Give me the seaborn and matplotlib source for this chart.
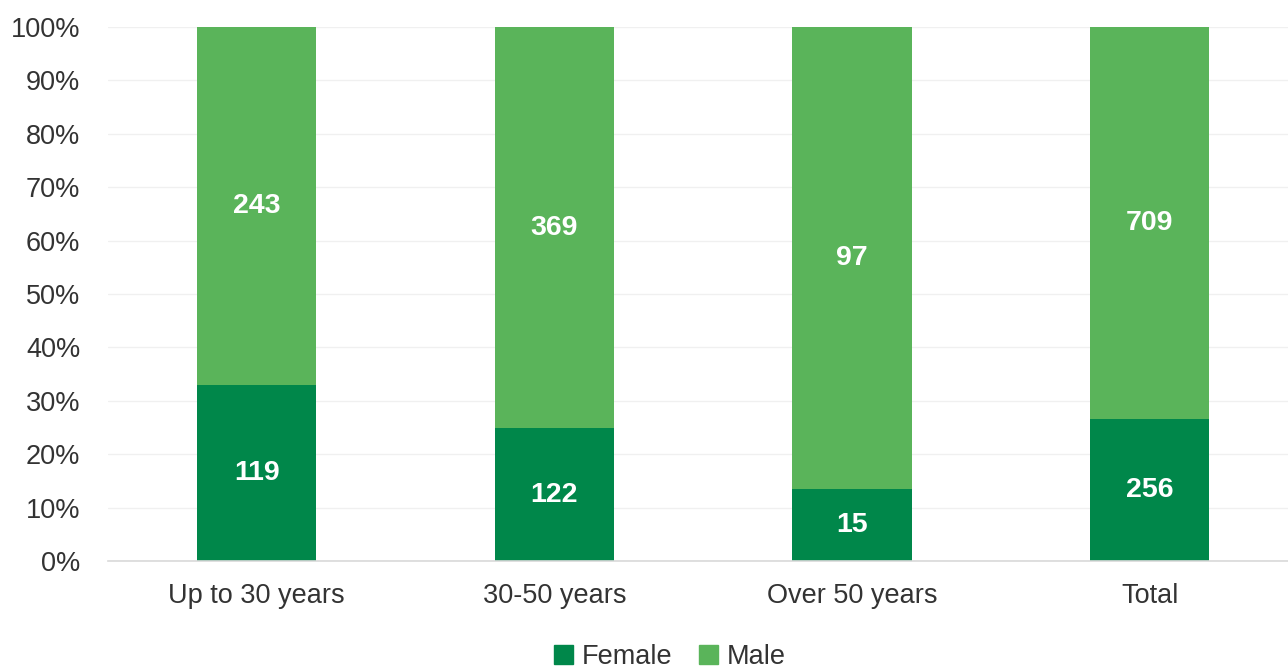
import matplotlib.pyplot as plt
import seaborn as sns
import pandas as pd
from matplotlib.patches import Patch

categories = ["Up to 30 years", "30-50 years", "Over 50 years", "Total"]
female = [119, 122, 15, 256]
male = [243, 369, 97, 709]

dark_green = "#00874A"
light_green = "#5AB45A"

sns.set_theme(style="white")
plt.rcParams["font.family"] = ["Liberation Sans", "DejaVu Sans"]

df = pd.DataFrame({"category": categories, "female": female, "male": male})
df["total"] = df["female"] + df["male"]
df["female_pct"] = df["female"] / df["total"] * 100
df["full"] = 100.0

fig = plt.figure(figsize=(12.88, 6.68), dpi=100)
ax = fig.add_axes([108 / 1288, 107 / 668, 1 - 108 / 1288, 534 / 668])

sns.barplot(data=df, x="category", y="full", color=light_green, width=0.4,
            saturation=1, linewidth=0, ax=ax)
sns.barplot(data=df, x="category", y="female_pct", color=dark_green, width=0.4,
            saturation=1, linewidth=0, ax=ax)

for i, row in df.iterrows():
    fp = row["female_pct"]
    ax.text(i, fp / 2, str(row["female"]), ha="center", va="center",
            color="white", fontsize=20.5, fontweight="bold")
    ax.text(i, fp + (100 - fp) / 2, str(row["male"]), ha="center", va="center",
            color="white", fontsize=20.5, fontweight="bold")

ax.set_ylim(0, 100)
ax.set_xlim(-0.5, 3.465)
ax.set_yticks(range(0, 101, 10))
ax.set_yticklabels([f"{v}%" for v in range(0, 101, 10)])
ax.yaxis.grid(True, color="#f0f0f0", linewidth=1)
ax.set_axisbelow(True)
ax.set_xlabel("")
ax.set_ylabel("")
ax.tick_params(axis="y", labelsize=19.5, labelcolor="#333333", length=0, pad=20)
ax.tick_params(axis="x", labelsize=19.5, labelcolor="#333333", length=0, pad=16)
for s in ["top", "right", "left"]:
    ax.spines[s].set_visible(False)
ax.spines["bottom"].set_color("#d9d9d9")
ax.spines["bottom"].set_linewidth(1.2)

handles = [Patch(color=dark_green, label="Female"), Patch(color=light_green, label="Male")]
fig.legend(handles=handles, loc="lower center", bbox_to_anchor=(554 / 1288 + 0.09, -0.04),
           ncol=2, frameon=False, fontsize=19.5, handlelength=0.7, handleheight=0.7,
           handletextpad=0.3, columnspacing=1.0, labelcolor="#333333")

fig.savefig("out.png", dpi=100)
